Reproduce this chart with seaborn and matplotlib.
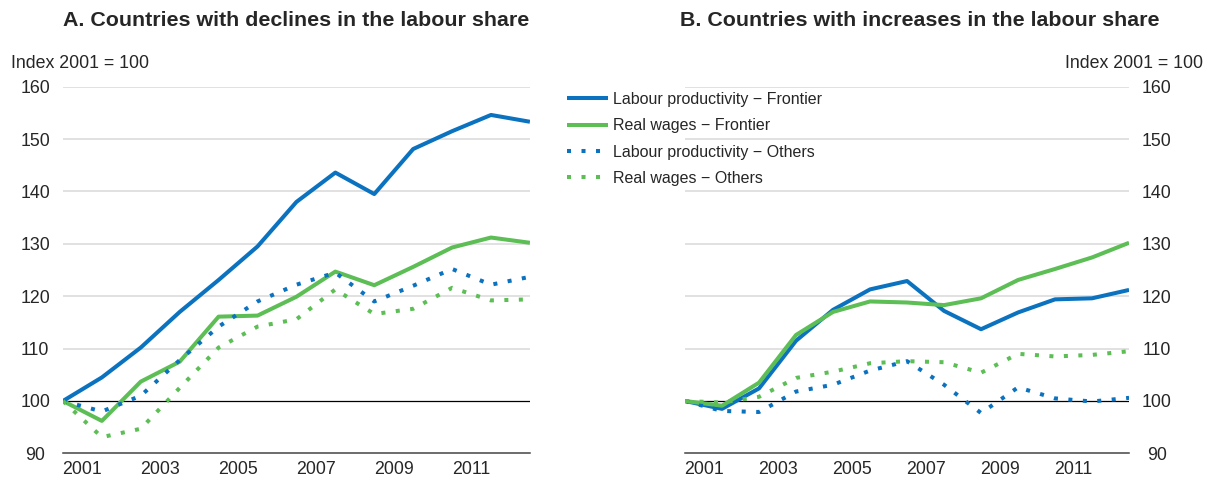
import matplotlib
matplotlib.use("Agg")
import matplotlib.pyplot as plt
import seaborn as sns
import pandas as pd
import numpy as np

sns.set_theme(style="white")
plt.rcParams["font.family"] = ["Liberation Sans", "DejaVu Sans"]

BLUE = "#0B72C0"
GREEN = "#5CBE55"
TXT = "#262626"

years = list(range(2001, 2014))
labels = ["Labour productivity \u2212 Frontier", "Real wages \u2212 Frontier",
          "Labour productivity \u2212 Others", "Real wages \u2212 Others"]

# Panel A: countries with declines in the labour share
a_lp_front = [100, 104.5, 110.2, 117.0, 123.1, 129.5, 138.0, 143.6, 139.5, 148.1, 151.5, 154.6, 153.3]
a_rw_front = [100, 96.2, 103.7, 107.5, 116.1, 116.3, 119.9, 124.7, 122.1, 125.6, 129.3, 131.2, 130.2]
a_lp_oth = [100, 98.0, 101.0, 107.8, 114.2, 119.0, 122.2, 124.5, 119.0, 122.0, 125.2, 122.2, 123.7]
a_rw_oth = [100, 93.1, 94.7, 102.5, 110.2, 114.2, 115.6, 121.3, 116.6, 117.6, 121.6, 119.2, 119.4]

# Panel B: countries with increases in the labour share
b_lp_front = [100, 98.5, 102.4, 111.5, 117.4, 121.3, 122.9, 117.2, 113.7, 116.9, 119.4, 119.6, 121.2]
b_rw_front = [100, 99.1, 103.5, 112.6, 117.0, 119.0, 118.8, 118.3, 119.6, 123.1, 125.2, 127.4, 130.2]
b_lp_oth = [100, 98.1, 97.9, 101.8, 103.1, 105.8, 107.6, 103.1, 97.7, 102.6, 100.5, 99.9, 100.6]
b_rw_oth = [100, 99.7, 100.8, 104.4, 105.6, 107.2, 107.6, 107.4, 105.4, 109.0, 108.5, 108.8, 109.5]

styles = [(BLUE, "-"), (GREEN, "-"), (BLUE, (0, (1, 2.6))), (GREEN, (0, (1, 2.6)))]

fig = plt.figure(figsize=(12.06, 4.78), dpi=100)
ax_a = fig.add_axes([0.0522, 0.0515, 0.3872, 0.7672])
ax_b = fig.add_axes([0.568, 0.0515, 0.3682, 0.7672])

quarters = [i + q for i in range(12) for q in (0.25, 0.5, 0.75)]
qlabels = [str(2001 + int(p)) if (p % 1 == 0.5 and int(p) % 2 == 0) else "" for p in quarters]

for ax, series, right in [(ax_a, [a_lp_front, a_rw_front, a_lp_oth, a_rw_oth], False),
                          (ax_b, [b_lp_front, b_rw_front, b_lp_oth, b_rw_oth], True)]:
    for y in range(110, 161, 10):
        ax.axhline(y, color="#d9d9d9", lw=1.1, zorder=0)
    ax.axhline(100, color="black", lw=0.9, zorder=1)
    for vals, lab, (col, ls) in zip(series, labels, styles):
        df = pd.DataFrame({"x": np.array(years) - 2001, "value": vals})
        sns.lineplot(data=df, x="x", y="value", ax=ax, color=col, lw=2.9,
                     linestyle=ls, label=lab, dash_capstyle="butt",
                     solid_capstyle="butt", zorder=3)
    ax.set_xlim(0, 12)
    ax.set_ylim(90, 160)
    ax.set_yticks(range(90, 161, 10))
    ax.set_xticks(range(13))
    ax.set_xticklabels([])
    ax.set_xticks(quarters, labels=qlabels, minor=True)
    ax.set_xlabel("")
    ax.set_ylabel("")
    for s in ["top", "left", "right"]:
        ax.spines[s].set_visible(False)
    ax.spines["bottom"].set_color("#444444")
    ax.spines["bottom"].set_linewidth(1.1)
    ax.tick_params(axis="x", which="major", direction="in", length=6, width=1, color="#444444")
    ax.tick_params(axis="x", which="minor", direction="in", length=2.7, width=1, color="#444444",
                   labelsize=12.8, labelcolor=TXT, pad=5.5)
    ax.tick_params(axis="y", length=0, labelsize=12.8, labelcolor=TXT, pad=20)
    if right:
        ax.yaxis.tick_right()
        ax.tick_params(axis="y", length=0, pad=20)
    for t in ax.get_yticklabels():
        t.set_horizontalalignment("center")
    ax.get_legend().remove()

handles, labs = ax_b.get_legend_handles_labels()
fig.legend(handles, labs, loc="upper left", bbox_to_anchor=(567 / 1206, 1 - 92 / 478),
           frameon=False, fontsize=11.5, handlelength=2.55, handletextpad=0.35,
           labelspacing=0.71, borderpad=0, borderaxespad=0, labelcolor=TXT)

fig.text(296 / 1206, 1 - 21 / 478, "A. Countries with declines in the labour share",
         ha="center", va="center", fontsize=15.4, fontweight="bold", color=TXT)
fig.text(920 / 1206, 1 - 21 / 478, "B. Countries with increases in the labour share",
         ha="center", va="center", fontsize=15.4, fontweight="bold", color=TXT)
fig.text(11 / 1206, 1 - 64 / 478, "Index 2001 = 100", ha="left", va="center",
         fontsize=12.8, color=TXT)
fig.text(1203 / 1206, 1 - 64 / 478, "Index 2001 = 100", ha="right", va="center",
         fontsize=12.8, color=TXT)

fig.savefig("out.png", dpi=100)
